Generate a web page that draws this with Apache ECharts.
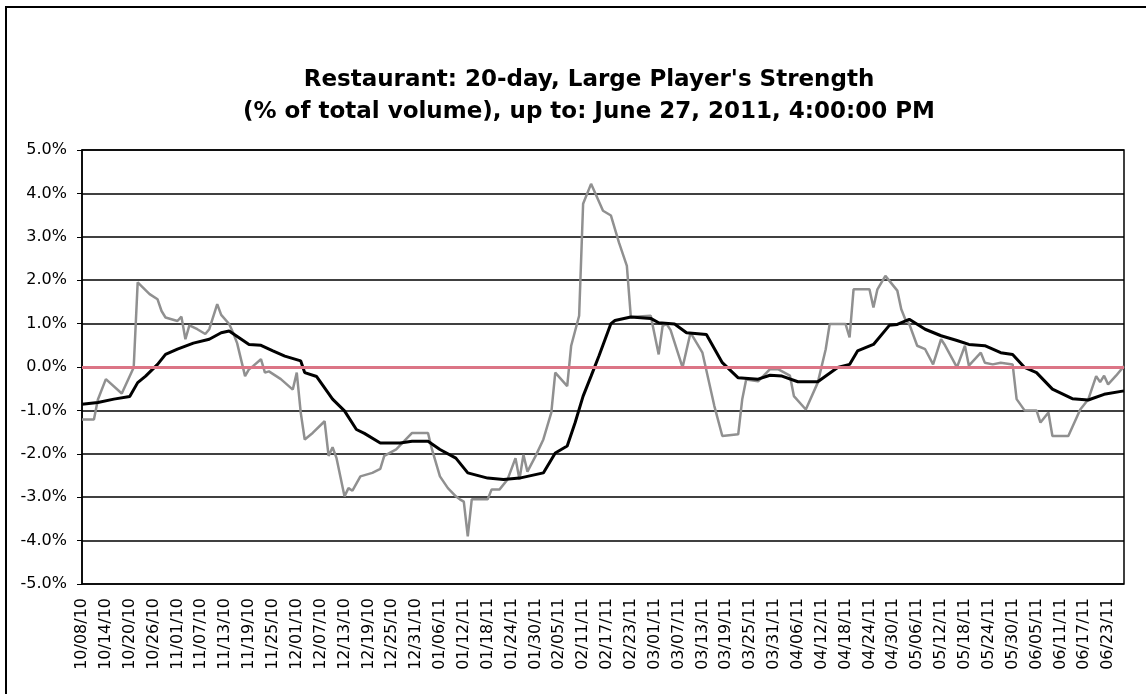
<!DOCTYPE html>
<html>
<head>
<meta charset="utf-8">
<title>Restaurant: 20-day, Large Player's Strength</title>
<script src="https://cdn.jsdelivr.net/npm/echarts@6/dist/echarts.min.js"></script>
<style>
  html, body { margin: 0; padding: 0; background: #fff; overflow: hidden; }
  #frame { position: absolute; left: 5px; top: 6px; width: 1160px; height: 710px; border: 2px solid #000; }
  #chart { position: absolute; left: 0; top: 0; width: 1146px; height: 694px; }
</style>
</head>
<body>
<div id="frame"></div>
<div id="chart"></div>
<script>
// calendar days on the x axis, 10/08/10 .. 06/27/11
var dates = [];
for (var t = Date.UTC(2010, 9, 8); t <= Date.UTC(2011, 5, 27); t += 86400000) {
    var d = new Date(t);
    var mm = ('0' + (d.getUTCMonth() + 1)).slice(-2);
    var dd = ('0' + d.getUTCDate()).slice(-2);
    var yy = ('' + d.getUTCFullYear()).slice(-2);
    dates.push(mm + '/' + dd + '/' + yy);
}

// large player's strength, % of total volume (grey line)
var strength = [
    ['10/08/10', -1.21], ['10/11/10', -1.21], ['10/12/10', -0.75], ['10/14/10', -0.28],
    ['10/18/10', -0.61], ['10/21/10', -0.01], ['10/22/10', 1.95], ['10/25/10', 1.68],
    ['10/27/10', 1.56], ['10/28/10', 1.29], ['10/29/10', 1.14], ['11/01/10', 1.06],
    ['11/02/10', 1.16], ['11/03/10', 0.64], ['11/04/10', 0.96], ['11/06/10', 0.87],
    ['11/08/10', 0.76], ['11/09/10', 0.87], ['11/11/10', 1.45], ['11/12/10', 1.20],
    ['11/14/10', 0.99], ['11/15/10', 0.79], ['11/16/10', 0.55], ['11/18/10', -0.21],
    ['11/19/10', -0.05], ['11/20/10', 0.02], ['11/22/10', 0.18], ['11/23/10', -0.13],
    ['11/24/10', -0.10], ['11/27/10', -0.28], ['11/30/10', -0.52], ['12/01/10', -0.13],
    ['12/02/10', -1.05], ['12/03/10', -1.67], ['12/05/10', -1.52], ['12/08/10', -1.25],
    ['12/09/10', -2.05], ['12/10/10', -1.85], ['12/11/10', -2.10], ['12/13/10', -2.98],
    ['12/14/10', -2.79], ['12/15/10', -2.85], ['12/17/10', -2.52], ['12/20/10', -2.44],
    ['12/22/10', -2.35], ['12/23/10', -2.05], ['12/26/10', -1.90], ['12/28/10', -1.71],
    ['12/30/10', -1.52], ['01/03/11', -1.52], ['01/04/11', -1.90], ['01/06/11', -2.52],
    ['01/08/11', -2.79], ['01/10/11', -2.98], ['01/11/11', -3.05], ['01/12/11', -3.10],
    ['01/13/11', -3.90], ['01/14/11', -3.05], ['01/18/11', -3.05], ['01/19/11', -2.82],
    ['01/21/11', -2.82], ['01/23/11', -2.59], ['01/25/11', -2.10], ['01/26/11', -2.59],
    ['01/27/11', -2.02], ['01/28/11', -2.41], ['01/30/11', -2.06], ['02/01/11', -1.67],
    ['02/03/11', -1.05], ['02/04/11', -0.13], ['02/07/11', -0.44], ['02/08/11', 0.49],
    ['02/10/11', 1.18], ['02/11/11', 3.76], ['02/13/11', 4.22], ['02/16/11', 3.60],
    ['02/18/11', 3.49], ['02/20/11', 2.87], ['02/22/11', 2.33], ['02/23/11', 1.15],
    ['02/28/11', 1.18], ['03/02/11', 0.29], ['03/03/11', 0.95], ['03/04/11', 0.99],
    ['03/05/11', 0.85], ['03/08/11', -0.01], ['03/10/11', 0.79], ['03/13/11', 0.33],
    ['03/16/11', -0.90], ['03/18/11', -1.59], ['03/22/11', -1.55], ['03/23/11', -0.75],
    ['03/24/11', -0.29], ['03/27/11', -0.33], ['03/30/11', -0.05], ['04/01/11', -0.05],
    ['04/04/11', -0.20], ['04/05/11', -0.67], ['04/08/11', -0.98], ['04/11/11', -0.36],
    ['04/13/11', 0.41], ['04/14/11', 0.99], ['04/18/11', 0.99], ['04/19/11', 0.68],
    ['04/20/11', 1.79], ['04/24/11', 1.79], ['04/25/11', 1.37], ['04/26/11', 1.79],
    ['04/28/11', 2.10], ['05/01/11', 1.76], ['05/02/11', 1.33], ['05/03/11', 1.10],
    ['05/04/11', 0.99], ['05/06/11', 0.49], ['05/08/11', 0.41], ['05/10/11', 0.06],
    ['05/12/11', 0.64], ['05/13/11', 0.50], ['05/16/11', -0.01], ['05/18/11', 0.49],
    ['05/19/11', 0.03], ['05/22/11', 0.33], ['05/23/11', 0.10], ['05/25/11', 0.06],
    ['05/27/11', 0.10], ['05/30/11', 0.06], ['05/31/11', -0.74], ['06/02/11', -1.00],
    ['06/05/11', -1.00], ['06/06/11', -1.28], ['06/08/11', -1.05], ['06/09/11', -1.59],
    ['06/13/11', -1.59], ['06/16/11', -0.98], ['06/18/11', -0.75], ['06/20/11', -0.21],
    ['06/21/11', -0.35], ['06/22/11', -0.20], ['06/23/11', -0.40], ['06/25/11', -0.20],
    ['06/27/11', 0.02]
];

// 20-day average (black line)
var avg20 = [
    ['10/08/10', -0.86], ['10/12/10', -0.82], ['10/16/10', -0.74], ['10/20/10', -0.68],
    ['10/22/10', -0.36], ['10/24/10', -0.21], ['10/27/10', 0.06], ['10/29/10', 0.29],
    ['11/01/10', 0.41], ['11/05/10', 0.55], ['11/09/10', 0.64], ['11/12/10', 0.79],
    ['11/14/10', 0.83], ['11/19/10', 0.52], ['11/22/10', 0.50], ['11/25/10', 0.37],
    ['11/28/10', 0.25], ['12/02/10', 0.14], ['12/03/10', -0.13], ['12/06/10', -0.22],
    ['12/10/10', -0.74], ['12/13/10', -1.01], ['12/16/10', -1.44], ['12/18/10', -1.53],
    ['12/22/10', -1.75], ['12/27/10', -1.75], ['12/30/10', -1.71], ['01/03/11', -1.71],
    ['01/06/11', -1.90], ['01/10/11', -2.10], ['01/13/11', -2.44], ['01/18/11', -2.56],
    ['01/22/11', -2.59], ['01/26/11', -2.56], ['02/01/11', -2.44], ['02/04/11', -1.98],
    ['02/07/11', -1.82], ['02/09/11', -1.28], ['02/11/11', -0.67], ['02/13/11', -0.21],
    ['02/15/11', 0.26], ['02/18/11', 1.00], ['02/19/11', 1.07], ['02/23/11', 1.15],
    ['02/28/11', 1.12], ['03/02/11', 1.02], ['03/06/11', 0.99], ['03/09/11', 0.79],
    ['03/14/11', 0.75], ['03/18/11', 0.10], ['03/22/11', -0.25], ['03/27/11', -0.28],
    ['03/30/11', -0.19], ['04/02/11', -0.21], ['04/06/11', -0.34], ['04/11/11', -0.34],
    ['04/16/11', -0.01], ['04/19/11', 0.06], ['04/21/11', 0.37], ['04/25/11', 0.52],
    ['04/29/11', 0.96], ['05/01/11', 0.98], ['05/04/11', 1.10], ['05/08/11', 0.87],
    ['05/12/11', 0.72], ['05/16/11', 0.61], ['05/19/11', 0.52], ['05/23/11', 0.49],
    ['05/27/11', 0.33], ['05/30/11', 0.29], ['06/02/11', -0.01], ['06/05/11', -0.13],
    ['06/09/11', -0.51], ['06/14/11', -0.73], ['06/18/11', -0.76], ['06/22/11', -0.63],
    ['06/27/11', -0.55]
];

var chart = echarts.init(document.getElementById('chart'));
chart.setOption({
    animation: false,
    title: {
        text: "Restaurant: 20-day, Large Player's Strength\n(% of total volume), up to: June 27, 2011, 4:00:00 PM",
        left: 584,
        textAlign: 'center',
        top: 59,
        textStyle: { fontFamily: 'DejaVu Sans', fontWeight: 'bold', fontSize: 23, lineHeight: 32, color: '#000' }
    },
    grid: { left: 82, right: 22, top: 150, bottom: 110, show: true, borderColor: '#000', borderWidth: 1.5 },
    xAxis: {
        type: 'category',
        data: dates,
        boundaryGap: false,
        axisLine: { lineStyle: { color: '#000', width: 1.5 } },
        axisTick: { show: false },
        axisLabel: { interval: 5, rotate: 90, margin: 14, fontFamily: 'DejaVu Sans', fontSize: 16, color: '#000' },
        splitLine: { show: false }
    },
    yAxis: {
        type: 'value',
        min: -5, max: 5, interval: 1,
        axisLine: { show: true, lineStyle: { color: '#000', width: 1.5 } },
        axisTick: { show: true, length: 5, lineStyle: { color: '#000' } },
        axisLabel: { margin: 15, fontFamily: 'DejaVu Sans', fontSize: 16, color: '#000',
            formatter: function (v) { return v.toFixed(1) + '%'; } },
        splitLine: { lineStyle: { color: '#000', width: 1.5 } }
    },
    series: [
        {
            type: 'line', data: [], z: 1,
            markLine: {
                silent: true, symbol: 'none', label: { show: false },
                lineStyle: { color: '#dc7586', width: 3, type: 'solid' },
                data: [{ yAxis: 0 }]
            }
        },
        {
            name: 'Strength', type: 'line', data: strength, z: 2,
            showSymbol: false, lineStyle: { color: '#909090', width: 2.5 }
        },
        {
            name: '20-day', type: 'line', data: avg20, z: 3,
            showSymbol: false, lineStyle: { color: '#000', width: 3 }
        }
    ]
});
</script>
</body>
</html>
